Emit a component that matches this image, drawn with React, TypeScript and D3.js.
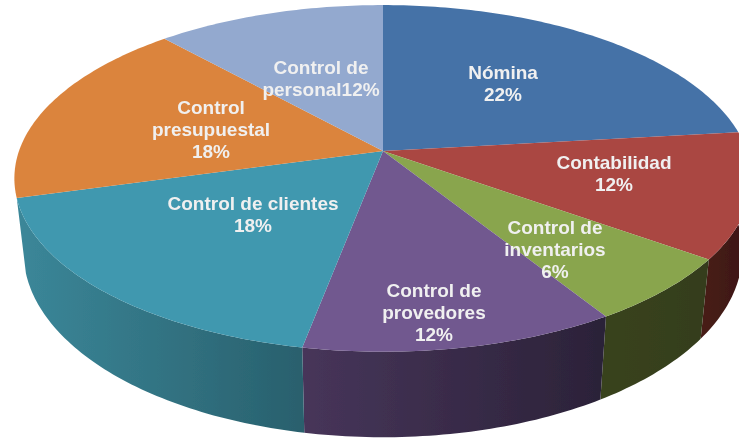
import React from 'react';
import * as d3 from 'd3';

const categories = ['Nómina', 'Contabilidad', 'Control de inventarios', 'Control de provedores', 'Control de clientes', 'Control presupuestal', 'Control de personal'];
const shares = [23.2, 11.7, 6.2, 11.9, 17.7, 17.6, 11.7];
const topColors = ['#4572a7', '#aa4643', '#89a54e', '#71588f', '#4198af', '#db843d', '#93a9cf'];
const sideFrom = ['#3a5f8a', '#461c19', '#39431f', '#47355a', '#3b8799', '#b06a30', '#7688a6'];
const sideTo = ['#2c4868', '#3f1816', '#343d1c', '#2b2238', '#29606d', '#8a5326', '#5c6a81'];
const labelLines = [
  ['Nómina', '22%'],
  ['Contabilidad', '12%'],
  ['Control de', 'inventarios', '6%'],
  ['Control de', 'provedores', '12%'],
  ['Control de clientes', '18%'],
  ['Control', 'presupuestal', '18%'],
  ['Control de', 'personal12%'],
];
const labelPos = [[503, 79], [614, 169], [555, 234], [434, 297], [253, 210], [211, 114], [321, 74]];

const W = 739;
const H = 438;
const apex = { x: 383, y: 151 };
const radiusX = 364;
const radiusY = 169;
const tilt = 0.158;
const depth = 72;
const baseShrink = 0.975;

// circle on the pie plane to the screen, with some perspective
const project = (a: number): [number, number] => {
  const u = Math.sin(a);
  const v = -Math.cos(a);
  const w = 1 - tilt * v;
  return [apex.x + (radiusX * u) / w, apex.y + (radiusY * v) / w];
};
const projectBase = (a: number): [number, number] => {
  const [x, y] = project(a);
  const w = 1 + tilt * Math.cos(a);
  return [apex.x + baseShrink * (x - apex.x), y + depth / w];
};

const line = d3.line();
const arcAngles = (a0: number, a1: number) => {
  const n = Math.max(2, Math.ceil((a1 - a0) * 60));
  return d3.range(n + 1).map((i) => a0 + ((a1 - a0) * i) / n);
};

export default function App() {
  const arcs = d3.pie<number>().sort(null)(shares);

  // only the front of the pie shows its wall
  const walls = arcs
    .map((d, i) => ({ i, a0: d.startAngle, a1: d.endAngle }))
    .filter((d) => d.a1 > Math.PI / 2 - 0.1 && d.a0 < Math.PI * 1.4)
    .map((d) => ({ ...d, a0: Math.max(d.a0, Math.PI / 2 - 0.1) }));

  return (
    <svg width={W} height={H} style={{ position: 'absolute', left: 0, top: 0 }}>
      <defs>
        {walls.map((d) => {
          const [x0] = project(d.a0);
          const [x1] = project(d.a1);
          return (
            <linearGradient key={d.i} id={`wall${d.i}`} gradientUnits="userSpaceOnUse" x1={x1} x2={x0} y1={0} y2={0}>
              <stop offset="0" stopColor={sideFrom[d.i]} />
              <stop offset="1" stopColor={sideTo[d.i]} />
            </linearGradient>
          );
        })}
        <filter id="soft" x="-10%" y="-10%" width="120%" height="120%">
          <feGaussianBlur stdDeviation="0.45" />
        </filter>
      </defs>
      <g filter="url(#soft)">
        {walls.map((d) => {
          const angles = arcAngles(d.a0, d.a1);
          const pts = [...angles.map(project), ...angles.slice().reverse().map(projectBase)];
          return <path key={d.i} d={line(pts) + 'Z'} fill={`url(#wall${d.i})`} />;
        })}
        {arcs.map((d, i) => {
          const pts: [number, number][] = [[apex.x, apex.y], ...arcAngles(d.startAngle, d.endAngle).map(project)];
          return <path key={categories[i]} d={line(pts) + 'Z'} fill={topColors[i]} />;
        })}
        {labelLines.map((lines, i) => (
          <text
            key={i}
            transform={`translate(${labelPos[i][0]},${labelPos[i][1]})`}
            textAnchor="middle"
            fontFamily="'Liberation Sans', Arial, sans-serif"
            fontWeight="bold"
            fontSize={19}
            fill="#f0f0f0"
          >
            {lines.map((t, j) => (
              <tspan key={j} x={0} dy={j === 0 ? 0 : 22}>
                {t}
              </tspan>
            ))}
          </text>
        ))}
      </g>
    </svg>
  );
}
